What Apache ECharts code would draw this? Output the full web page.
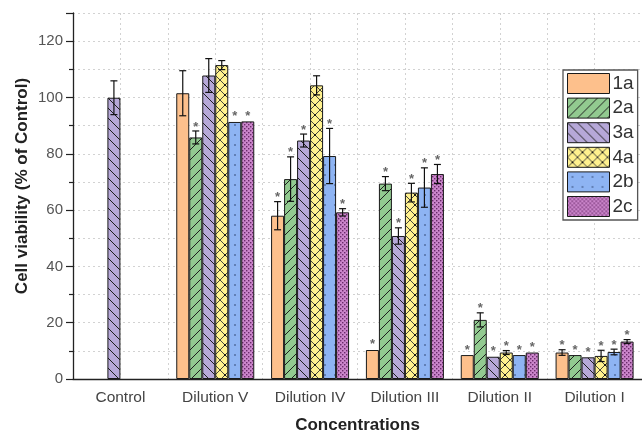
<!DOCTYPE html>
<html>
<head>
<meta charset="utf-8">
<script src="https://cdn.jsdelivr.net/npm/echarts@6/dist/echarts.min.js"></script>
<style>
  html, body { margin: 0; padding: 0; background: #fff; }
  #chart { width: 642px; height: 434px; }
</style>
</head>
<body>
<div id="chart"></div>
<script>
// Concentration groups along the x axis
const categories = ['Control', 'Dilution V', 'Dilution IV', 'Dilution III', 'Dilution II', 'Dilution I'];
const seriesNames = ['1a', '2a', '3a', '4a', '2b', '2c'];
const yTicks = [0, 20, 40, 60, 80, 100, 120];

// Cell viability (% of control), mean per compound
const v1a = [null, 101.5, 58.0, 10.3, 8.5, 9.4];
const v2a = [null, 85.8, 71.0, 69.4, 21.0, 8.5];
const v3a = [99.9, 107.8, 84.7, 50.8, 7.9, 7.7];
const v4a = [null, 111.5, 104.3, 66.2, 9.4, 8.2];
const v2b = [null, 91.3, 79.2, 68.0, 8.5, 9.6];
const v2c = [null, 91.5, 59.2, 72.8, 9.4, 13.3];

// Error bar half-lengths
const e1a = [null, 8.0, 5.0, 0.4, 0.4, 1.0];
const e2a = [null, 2.3, 7.9, 2.5, 2.5, 0.4];
const e3a = [6.0, 6.0, 2.3, 2.9, 0.4, 0.4];
const e4a = [null, 1.6, 3.4, 3.3, 0.7, 2.0];
const e2b = [null, 0.4, 9.8, 7.0, 0.4, 1.0];
const e2c = [null, 0.4, 1.3, 3.4, 0.4, 0.7];

// Significance marks (1 = asterisk drawn above the bar)
const s1a = [0, 0, 1, 1, 1, 1];
const s2a = [0, 1, 1, 1, 1, 1];
const s3a = [0, 0, 1, 1, 1, 1];
const s4a = [0, 0, 0, 1, 1, 1];
const s2b = [0, 1, 1, 1, 1, 1];
const s2c = [0, 1, 1, 1, 1, 1];

const values = [v1a, v2a, v3a, v4a, v2b, v2c];
const errors = [e1a, e2a, e3a, e4a, e2b, e2c];
const stars = [s1a, s2a, s3a, s4a, s2b, s2c];

const BAR_W = 13;
const FONT = '"Liberation Sans", Arial, sans-serif';

// Fill patterns for each compound
function makePattern(bg, size, draw) {
  const c = document.createElement('canvas');
  c.width = c.height = size;
  const g = c.getContext('2d');
  g.fillStyle = bg;
  g.fillRect(0, 0, size, size);
  draw(g, size);
  return { image: c, repeat: 'repeat' };
}
function slashLines(g, t) {
  for (const c of [0, t, 2 * t]) { g.moveTo(-1, c + 1); g.lineTo(t + 1, c - t - 1); }
}
function backLines(g, t) {
  for (const c of [-t, 0, t]) { g.moveTo(-1, c - 1); g.lineTo(t + 1, c + t + 1); }
}
const fills = [
  '#FDC08C',
  makePattern('#92CA90', 10, (g, t) => {
    g.strokeStyle = '#1e1e1e'; g.lineWidth = 1; g.beginPath(); slashLines(g, t); g.stroke();
  }),
  makePattern('#B6A8D8', 10, (g, t) => {
    g.strokeStyle = '#1e1e1e'; g.lineWidth = 1; g.beginPath(); backLines(g, t); g.stroke();
  }),
  makePattern('#FFF18E', 10, (g, t) => {
    g.strokeStyle = '#333'; g.lineWidth = 0.9; g.beginPath(); slashLines(g, t); backLines(g, t); g.stroke();
    g.fillStyle = '#111'; g.beginPath(); g.arc(t / 2, t / 2, 1.1, 0, Math.PI * 2); g.fill();
  }),
  makePattern('#8EB4F3', 10, (g, t) => {
    g.fillStyle = '#2d3f6a'; g.beginPath(); g.arc(5, 5, 0.8, 0, Math.PI * 2); g.fill();
  }),
  makePattern('#CB86CB', 4, (g, t) => {
    g.fillStyle = '#6a2a6a'; g.fillRect(0, 0, 1.4, 1.4); g.fillRect(2, 2, 1.4, 1.4);
  })
];

const barSeries = seriesNames.map((name, k) => ({
  name: name,
  type: 'bar',
  xAxisIndex: 0,
  barWidth: BAR_W,
  barGap: '0%',
  data: values[k],
  itemStyle: { color: fills[k], borderColor: '#1a1a1a', borderWidth: 1 },
  z: 2
}));

// Error bars and asterisks drawn over each bar
function errorRenderer(k) {
  return function (params, api) {
    const ci = api.value(0), val = api.value(1), err = api.value(2), star = api.value(3);
    const base = api.coord([ci, 0]);
    const cx = base[0] - (BAR_W * seriesNames.length) / 2 + BAR_W * (k + 0.5);
    const yVal = api.coord([ci, val])[1];
    const yTop = api.coord([ci, val + err])[1];
    const yBot = api.coord([ci, val - err])[1];
    const cap = 3.5;
    const lineStyle = { stroke: '#111', lineWidth: 1.2 };
    const children = [];
    if (err > 0.5) {
      children.push({ type: 'line', shape: { x1: cx, y1: yTop, x2: cx, y2: yBot }, style: lineStyle });
      children.push({ type: 'line', shape: { x1: cx - cap, y1: yTop, x2: cx + cap, y2: yTop }, style: lineStyle });
      children.push({ type: 'line', shape: { x1: cx - cap, y1: yBot, x2: cx + cap, y2: yBot }, style: lineStyle });
    }
    if (star) {
      children.push({
        type: 'text',
        style: {
          text: '*', x: cx, y: Math.min(yTop, yVal) - 4,
          align: 'center', verticalAlign: 'middle',
          fill: '#666', font: 'bold 13px ' + FONT
        }
      });
    }
    return { type: 'group', children: children };
  };
}
const errorSeries = seriesNames.map((name, k) => ({
  type: 'custom',
  xAxisIndex: 0,
  renderItem: errorRenderer(k),
  data: values[k].map((v, i) => v == null ? null : [i, v, errors[k][i], stars[k][i]]).filter(d => d),
  z: 5,
  silent: true,
  tooltip: { show: false }
}));

const chart = echarts.init(document.getElementById('chart'), null, { renderer: 'canvas' });
const gridLine = { color: '#d2d2d2', type: [2, 3], width: 1 };
chart.setOption({
  animation: false,
  backgroundColor: '#fff',
  grid: { left: 73, right: 0, top: 13, bottom: 55, containLabel: false, outerBoundsMode: 'none' },
  legend: {
    data: seriesNames,
    orient: 'vertical',
    left: 563, top: 70,
    icon: 'rect',
    itemWidth: 42, itemHeight: 20, itemGap: 3.6,
    padding: [3, 4, 3, 4],
    backgroundColor: '#fff',
    borderColor: '#555', borderWidth: 1.3,
    itemStyle: { borderColor: '#1a1a1a', borderWidth: 1 },
    textStyle: { fontSize: 19, color: '#333', fontFamily: FONT, padding: [0, 0, 0, -2] }
  },
  xAxis: [
    {
      type: 'category',
      data: categories,
      position: 'bottom',
      axisLine: { lineStyle: { color: '#222', width: 1.3 } },
      axisTick: { length: 4, lineStyle: { color: '#222', width: 1.2 } },
      axisLabel: { fontSize: 15.5, color: '#444', fontFamily: FONT, margin: 11 },
      splitLine: { show: false },
      name: 'Concentrations',
      nameLocation: 'middle',
      nameGap: 38,
      nameTextStyle: { fontSize: 17, fontWeight: 'bold', color: '#222', fontFamily: FONT }
    },
    {
      type: 'category',
      data: categories,
      position: 'bottom',
      axisLine: { show: false },
      axisTick: { alignWithLabel: true, length: 7, lineStyle: { color: '#222', width: 1.2 } },
      axisLabel: { show: false },
      splitLine: { show: false }
    },
    {
      type: 'value',
      min: 0, max: 12, interval: 1,
      position: 'bottom',
      axisLine: { show: false },
      axisTick: { show: false },
      axisLabel: { show: false },
      splitLine: { show: true, lineStyle: gridLine }
    }
  ],
  yAxis: {
    type: 'value',
    min: 0, max: 130, interval: 20,
    axisLine: { show: true, lineStyle: { color: '#222', width: 1.3 } },
    axisTick: { show: true, length: 7, lineStyle: { color: '#222', width: 1.2 } },
    minorTick: { show: true, splitNumber: 2, length: 4, lineStyle: { color: '#222', width: 1.2 } },
    axisLabel: {
      fontSize: 15, color: '#555', fontFamily: FONT, margin: 10,
      formatter: v => (yTicks.indexOf(v) >= 0 ? String(v) : '')
    },
    splitLine: { show: true, lineStyle: gridLine },
    minorSplitLine: { show: true, lineStyle: gridLine }
  },
  graphic: [{
    type: 'text',
    x: 22, y: 186,
    rotation: Math.PI / 2,
    style: {
      text: 'Cell viability (% of Control)',
      align: 'center', verticalAlign: 'middle',
      font: 'bold 17px ' + FONT, fill: '#222'
    }
  }],
  series: barSeries.concat(errorSeries)
});
</script>
</body>
</html>
